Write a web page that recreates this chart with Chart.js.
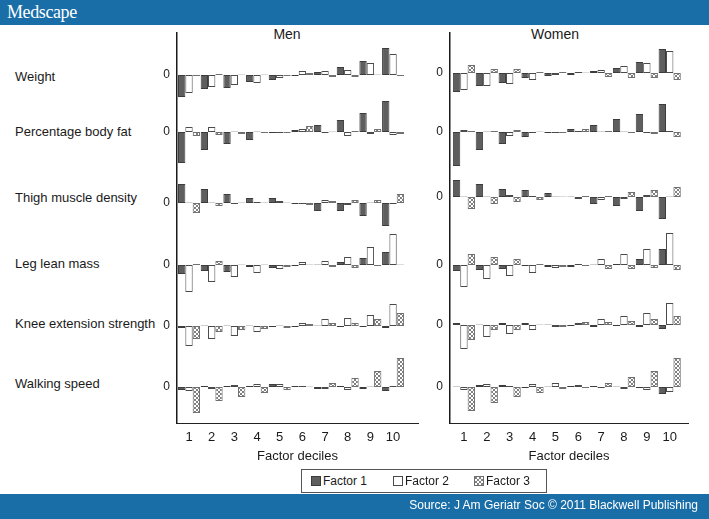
<!DOCTYPE html>
<html><head><meta charset="utf-8">
<script src="https://cdn.jsdelivr.net/npm/chart.js@4.4.1/dist/chart.umd.min.js"></script>
<style>
html,body{margin:0;padding:0;background:#fff;}
#page{position:relative;width:709px;height:519px;overflow:hidden;font-family:"Liberation Sans",Arial,sans-serif;color:#1a1a1a;}
#hdr{position:absolute;left:0;top:0;width:709px;height:25px;background:#1a6ea8;}
#hdr span{position:absolute;left:7px;top:1px;font-family:"Liberation Serif","DejaVu Serif",serif;font-size:18px;line-height:22px;color:#fff;letter-spacing:-0.4px;}
#ftr{position:absolute;left:0;top:494px;width:709px;height:25px;background:#1a6ea8;}
#ftr span{position:absolute;right:11px;top:4px;font-size:12px;line-height:15px;color:#fff;}
.rowlab{position:absolute;left:15px;font-size:13px;line-height:16px;transform:translateY(-50%);white-space:nowrap;}
.ptitle{position:absolute;font-size:14px;line-height:16px;transform:translate(-50%,-50%);white-space:nowrap;}
canvas.chart{position:absolute;}
#legend{position:absolute;left:301px;top:469px;width:244px;height:22px;border:1px solid #555;background:#fff;}
.litem{position:absolute;top:0;height:22px;font-size:12px;line-height:22px;white-space:nowrap;}
.litem canvas{position:absolute;left:0;top:6px;}
.litem span{position:absolute;left:12px;top:0;}
</style>
</head><body>
<div id="page">
  <div id="hdr"><span>Medscape</span></div>
  <div class="ptitle" style="left:287px;top:34px;">Men</div>
  <div class="ptitle" style="left:555px;top:34px;">Women</div>
  <div id="rowlabels"></div>
  <canvas id="men" class="chart" width="290" height="436" style="left:137px;top:30px;width:290px;height:436px;"></canvas>
  <canvas id="women" class="chart" width="290" height="436" style="left:410px;top:30px;width:290px;height:436px;"></canvas>
  <div id="legend"></div>
  <div id="ftr"><span>Source: J Am Geriatr Soc © 2011 Blackwell Publishing</span></div>
</div>
<script>
// ---- data ----
const deciles = [1, 2, 3, 4, 5, 6, 7, 8, 9, 10];
const factors = ['Factor 1', 'Factor 2', 'Factor 3'];
const outcomes = ['Weight', 'Percentage body fat', 'Thigh muscle density', 'Leg lean mass', 'Knee extension strength', 'Walking speed'];

// Men: [Factor 1, Factor 2, Factor 3] by decile
const menWeight  = [[-22,-14,-13,-7,-5,-1,3,8,14,27], [-18,-12,-10,-8,-3,4,4,5,12,21], [-1,1,0.5,0.5,-1,2,-2,-2,0.5,-1]];
const menBodyFat = [[-31,-18,-12,-8,-1,2,7,12,19,31], [5,5,0.5,0.5,-1,3,-1,-4,-2,-3], [-4,-3,-2,-1,-1,6,0.5,1,3,-2]];
const menThigh   = [[19,14,9,5,5,-1,-8,-8,-13,-23], [0.5,0.5,-1,1,2,-1,3,-2,0.5,-1], [-10,-3,0.5,0.5,0.5,-2,2,3,3,9]];
const menLegLean = [[-9,-6,-7,-2,-3,-1,0.5,3,7,13], [-27,-17,-12,-8,-4,3,4,8,18,31], [1,4,0.5,0.5,-2,0.5,-2,-3,-1,0.5]];
const menKnee    = [[-2,0.5,0.5,0.5,-1,-1,0.5,-1,-1,-2], [-20,-13,-10,-6,0.5,3,7,8,11,22], [-13,-6,-4,-3,-2,2,3,3,7,13]];
const menWalking = [[-3,1,1,1,3,1,-2,1,-2,-4], [-4,-2,2,3,3,1,-2,-3,0.5,1], [-26,-14,-10,-6,-3,0.5,4,9,16,29]];

// Women
const womenWeight  = [[-19,-13,-10,-5,-3,-2,2,5,11,24], [-17,-13,-11,-7,-2,1,3,7,10,22], [8,4,4,1,1,0.5,-4,-5,-5,-7]];
const womenBodyFat = [[-34,-18,-12,-5,-1,3,7,13,18,28], [2,0.5,-4,-1,-1,1,0.5,0.5,-1,1], [1,1,2,0.5,-1,3,1,-1,-2,-5]];
const womenThigh   = [[17,13,8,7,4,0.5,-7,-9,-14,-22], [0.5,0.5,2,1,0.5,-2,-3,-2,2,0.5], [-12,-7,-5,-3,0.5,1,1,5,7,10]];
const womenLegLean = [[-6,-5,-4,-1,-2,-2,0.5,1,6,16], [-22,-14,-11,-8,-3,1,6,11,16,32], [11,8,6,1,-2,-1,-4,-4,-3,-5]];
const womenKnee    = [[2,0.5,2,2,0.5,-1,-2,-1,-2,-4], [-24,-12,-9,-5,-2,2,6,9,12,22], [-15,-5,-5,0.5,-2,3,3,4,6,9]];
const womenWalking = [[0.5,2,2,-1,0.5,1,1,0.5,-1,-7], [-3,3,1,3,4,2,-1,-2,-3,-5], [-24,-16,-10,-6,-2,-1,4,10,16,29]];

// layout: position of each row's zero on the shared y scale
const menRowZero   = [348, 291, 220, 158, 97, 36];
const womenRowZero = [350, 291, 226, 158, 98, 36];
const rowLabelY = [77, 132, 198, 264, 324, 384];

// ---- styles ----
Chart.defaults.font.family = '"Liberation Sans", Arial, sans-serif';
Chart.defaults.color = '#1a1a1a';

function makePattern() {
  const c = document.createElement('canvas');
  c.width = 4; c.height = 4;
  const g = c.getContext('2d');
  g.fillStyle = '#ffffff'; g.fillRect(0, 0, 4, 4);
  g.strokeStyle = '#808080'; g.lineWidth = 1;
  g.beginPath();
  g.moveTo(0, 0); g.lineTo(4, 4);
  g.moveTo(4, 0); g.lineTo(0, 4);
  g.stroke();
  return g.createPattern(c, 'repeat');
}
const hatch = makePattern();
const fills = ['#5e5e5e', '#ffffff', hatch];
const borders = ['#3c3c3c', '#4a4a4a', '#707070'];

// row labels
const rl = document.getElementById('rowlabels');
outcomes.forEach((t, i) => {
  const d = document.createElement('div');
  d.className = 'rowlab'; d.style.top = rowLabelY[i] + 'px'; d.textContent = t;
  rl.appendChild(d);
});

// legend
const lg = document.getElementById('legend');
const legX = [9, 91, 172];
factors.forEach((f, i) => {
  const it = document.createElement('div');
  it.className = 'litem'; it.style.left = legX[i] + 'px';
  const sw = document.createElement('canvas');
  sw.width = 10; sw.height = 10;
  const g = sw.getContext('2d');
  g.fillStyle = fills[i]; g.fillRect(0, 0, 10, 10);
  g.strokeStyle = borders[i]; g.lineWidth = 1; g.strokeRect(0.5, 0.5, 9, 9);
  const sp = document.createElement('span'); sp.textContent = f;
  it.appendChild(sw); it.appendChild(sp);
  lg.appendChild(it);
});

function makePanel(id, rows, zeros, xmin, xmax, padRight) {
  const datasets = [];
  rows.forEach((row, r) => {
    row.forEach((vals, f) => {
      datasets.push({
        label: factors[f] + ' - ' + outcomes[r],
        stack: 'f' + f,
        data: deciles.map((d, i) => ({ x: d, y: [zeros[r], zeros[r] + vals[i]] })),
        backgroundColor: fills[f],
        borderColor: borders[f],
        borderWidth: 1,
        borderSkipped: false,
        categoryPercentage: 0.97,
        barPercentage: 1
      });
    });
  });
  new Chart(document.getElementById(id), {
    type: 'bar',
    data: { datasets },
    options: {
      responsive: false,
      animation: false,
      events: [],
      layout: { padding: { top: 3, right: padRight, left: 0, bottom: 0 } },
      plugins: { legend: { display: false }, tooltip: { enabled: false } },
      scales: {
        x: {
          type: 'linear', min: xmin, max: xmax, offset: false,
          grid: { display: false, drawTicks: false, offset: false },
          border: { display: true, color: '#222', width: 1 },
          afterBuildTicks: s => { s.ticks = deciles.map(v => ({ value: v })); },
          ticks: { padding: 7, font: { size: 13 }, color: '#1a1a1a', autoSkip: false, maxRotation: 0, callback: v => String(v) },
          title: { display: true, text: 'Factor deciles', font: { size: 13 }, color: '#1a1a1a', padding: { top: 0, bottom: 2 } },
          afterFit: s => { s.height = 43; }
        },
        y: {
          type: 'linear', min: 0, max: 390, stacked: false,
          grid: { display: false, drawTicks: false },
          border: { display: true, color: '#1a1a1a', width: 1.5 },
          afterBuildTicks: s => { s.ticks = zeros.map(v => ({ value: v })); },
          ticks: { padding: 7, font: { size: 12 }, color: '#1a1a1a', autoSkip: false, callback: () => '0' },
          afterFit: s => { s.width = 40; s.paddingTop = 0; s.paddingBottom = 0; }
        }
      }
    }
  });
}

makePanel('men', [menWeight, menBodyFat, menThigh, menLegLean, menKnee, menWalking], menRowZero, 0.47, 11.1, 9);
makePanel('women', [womenWeight, womenBodyFat, womenThigh, womenLegLean, womenKnee, womenWalking], womenRowZero, 0.39, 10.8, 12);
</script>
</body></html>
